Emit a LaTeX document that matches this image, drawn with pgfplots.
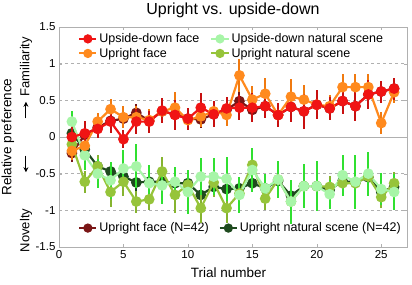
\documentclass[border=0pt]{standalone}
\usepackage{pgfplots}
\pgfplotsset{compat=1.18}
\usepackage{pgfplotstable}
\usepackage{fontspec}
\setmainfont{Liberation Sans}
\usetikzlibrary{arrows.meta}

\definecolor{cRed}{HTML}{F01414}
\definecolor{cRedBar}{HTML}{C81010}
\definecolor{cOrange}{HTML}{FF8A1E}
\definecolor{cOrangeBar}{HTML}{F07A10}
\definecolor{cLGreen}{HTML}{A8F5A8}
\definecolor{cLGreenBar}{HTML}{30E030}
\definecolor{cYGreen}{HTML}{96C43A}
\definecolor{cYGreenBar}{HTML}{86B430}
\definecolor{cDRed}{HTML}{7A1616}
\definecolor{cDGreen}{HTML}{1E4A1E}
\definecolor{cAxis}{HTML}{B0B0B0}

\pgfplotstableread{
x y e
1 0.00 0.15
2 0.05 0.17
3 0.11 0.12
4 0.21 0.15
5 -0.03 0.12
6 0.21 0.17
7 0.21 0.15
8 0.36 0.17
9 0.30 0.20
10 0.25 0.15
11 0.40 0.20
12 0.31 0.18
13 0.39 0.15
14 0.40 0.17
15 0.40 0.20
16 0.42 0.16
17 0.30 0.16
18 0.41 0.20
19 0.35 0.24
20 0.44 0.20
21 0.39 0.16
22 0.49 0.18
23 0.42 0.20
24 0.58 0.20
25 0.62 0.15
26 0.66 0.15
}\tRed

\pgfplotstableread{
x y e
1 -0.19 0.12
2 -0.12 0.12
3 0.21 0.12
4 0.38 0.14
5 0.27 0.15
6 0.27 0.15
7 0.23 0.15
8 0.35 0.15
9 0.40 0.22
10 0.23 0.12
11 0.28 0.15
12 0.35 0.12
13 0.30 0.15
14 0.84 0.22
15 0.51 0.18
16 0.59 0.22
17 0.30 0.15
18 0.55 0.24
19 0.51 0.20
20 0.44 0.15
21 0.42 0.15
22 0.68 0.18
23 0.68 0.18
24 0.68 0.18
25 0.19 0.15
26 0.61 0.15
}\tOrange

\pgfplotstableread{
x y e
1 -0.22 0.12
2 0.03 0.12
3 0.13 0.12
4 0.22 0.12
5 0.25 0.12
6 0.33 0.12
7 0.22 0.12
8 0.35 0.12
9 0.31 0.12
10 0.25 0.12
11 0.24 0.12
12 0.31 0.12
13 0.37 0.12
14 0.49 0.12
15 0.37 0.12
16 0.42 0.12
17 0.30 0.12
18 0.41 0.12
19 0.35 0.12
20 0.44 0.12
21 0.39 0.12
22 0.49 0.12
23 0.42 0.12
24 0.58 0.12
25 0.62 0.12
26 0.66 0.12
}\tDRed

\pgfplotstableread{
x y e
1 0.21 0.15
2 -0.25 0.20
3 -0.50 0.20
4 -0.59 0.25
5 -0.43 0.25
6 -0.40 0.30
7 -0.63 0.25
8 -0.66 0.25
9 -0.61 0.20
10 -0.75 0.30
11 -0.54 0.25
12 -0.54 0.25
13 -0.57 0.30
14 -0.79 0.25
15 -0.45 0.30
16 -0.70 0.20
17 -0.58 0.25
18 -0.88 0.30
19 -0.67 0.30
20 -0.67 0.34
21 -0.78 0.20
22 -0.52 0.28
23 -0.61 0.37
24 -0.50 0.30
25 -0.71 0.22
26 -0.75 0.25
}\tLGreen

\pgfplotstableread{
x y e
1 -0.10 0.15
2 -0.61 0.15
3 -0.40 0.15
4 -0.75 0.20
5 -0.61 0.20
6 -0.88 0.15
7 -0.85 0.15
8 -0.47 0.20
9 -0.79 0.25
10 -0.65 0.20
11 -0.97 0.20
12 -0.62 0.20
13 -0.97 0.20
14 -0.77 0.20
15 -0.38 0.20
16 -0.84 0.15
17 -0.58 0.20
18 -0.88 0.20
19 -0.67 0.20
20 -0.67 0.20
21 -0.68 0.15
22 -0.63 0.15
23 -0.63 0.15
24 -0.54 0.15
25 -0.82 0.15
26 -0.63 0.15
}\tYGreen

\pgfplotstableread{
x y e
1 0.05 0.12
2 -0.17 0.12
3 -0.40 0.12
4 -0.47 0.12
5 -0.54 0.12
6 -0.62 0.12
7 -0.61 0.12
8 -0.61 0.12
9 -0.63 0.12
10 -0.63 0.12
11 -0.79 0.12
12 -0.68 0.12
13 -0.71 0.12
14 -0.70 0.12
15 -0.63 0.12
16 -0.70 0.12
17 -0.60 0.12
18 -0.80 0.12
19 -0.67 0.12
20 -0.67 0.12
21 -0.72 0.12
22 -0.60 0.12
23 -0.62 0.12
24 -0.55 0.12
25 -0.75 0.12
26 -0.68 0.12
}\tDGreen

\pgfplotsset{
  common/.style={
    at={(0pt,0pt)}, anchor=south west,
    scale only axis, width=348pt, height=220pt,
    xmin=0, xmax=27, ymin=-1.5, ymax=1.5,
  },
  ser/.style={color=#1, line width=2.2pt, mark=*, mark size=4.2pt,
    mark options={solid, fill=#1}},
  eb/.style={error bars/.cd, y dir=both, y explicit, error mark=none,
    error bar style={line width=2pt, color=#1}},
  leg/.style={color=#1, line width=2pt, mark=*, mark size=3.6pt,
    mark options={solid, fill=#1}},
}

\begin{document}
\begin{tikzpicture}
\path[use as bounding box] (-59pt,-37pt) rectangle (353pt,247pt);
% Background axis: grid, ticks, dark series, bottom legend
\begin{axis}[common,
  axis line style={draw=cAxis},
  tick style={draw=cAxis},
  major tick length=3pt,
  xtick={0,5,10,15,20,25},
  ytick={-1.5,-1,-0.5,0.5,1,1.5},
  extra y ticks={0},
  extra y tick style={grid style={solid, draw=cAxis, line width=0.6pt}},
  ymajorgrids,
  grid style={dashed, draw=cAxis, line width=0.6pt},
  /pgf/number format/assume math mode=true,
  tick label style={font=\fontsize{11.5}{13}\selectfont},
  yticklabel style={/pgf/number format/fixed},
  legend columns=2,
  legend style={at={(0.055,0.086)}, anchor=west, draw=none, fill=none,
    font=\fontsize{12.5}{14}\selectfont, inner sep=0pt,
    /tikz/every even column/.append style={column sep=8pt}},
  legend cell align=left,
]
\addplot[forget plot, ser=cDRed, eb=cDRed] table[x=x,y=y,y error=e] {\tDRed};
\addplot[forget plot, ser=cDGreen, eb=cDGreen] table[x=x,y=y,y error=e] {\tDGreen};
\addlegendimage{leg=cDRed}
\addlegendentry{Upright face (N=42)}
\addlegendimage{leg=cDGreen}
\addlegendentry{Upright natural scene (N=42)}
\end{axis}
% Foreground axis: main series, top legend, labels
\begin{axis}[common,
  axis lines=none, ticks=none,
  clip=false,
  legend columns=2,
  legend style={at={(0.055,0.98)}, anchor=north west, draw=none, fill=none,
    font=\fontsize{12.5}{14}\selectfont, inner sep=0pt, row sep=0pt,
    /tikz/every even column/.append style={column sep=9pt}},
  legend cell align=left,
]
\addplot[forget plot, ser=cYGreen, eb=cYGreenBar] table[x=x,y=y,y error=e] {\tYGreen};
\addplot[forget plot, ser=cLGreen, eb=cLGreenBar] table[x=x,y=y,y error=e] {\tLGreen};
\addplot[forget plot, ser=cOrange, eb=cOrangeBar] table[x=x,y=y,y error=e] {\tOrange};
\addplot[forget plot, ser=cRed, eb=cRedBar] table[x=x,y=y,y error=e] {\tRed};
\addlegendimage{leg=cRed}
\addlegendentry{Upside-down face}
\addlegendimage{leg=cLGreen}
\addlegendentry{Upside-down natural scene}
\addlegendimage{leg=cOrange}
\addlegendentry{Upright face}
\addlegendimage{leg=cYGreen}
\addlegendentry{Upright natural scene}
\node[font=\fontsize{16}{18}\selectfont] at (rel axis cs:0.5,1.077) {Upright vs. upside-down};
\node[font=\fontsize{13.5}{15}\selectfont] at (rel axis cs:0.487,-0.118) {Trial number};
\node[font=\fontsize{13.5}{15}\selectfont, rotate=90] at (rel axis cs:-0.147,0.5) {Relative preference};
\node[font=\fontsize{13}{15}\selectfont, rotate=90] at (rel axis cs:-0.095,0.82) {Familiarity};
\node[font=\fontsize{13}{15}\selectfont, rotate=90] at (rel axis cs:-0.095,0.075) {Novelty};
\draw[-{Stealth[length=5pt,width=5pt]}, line width=1pt] (rel axis cs:-0.095,0.585) -- (rel axis cs:-0.095,0.66);
\draw[-{Stealth[length=5pt,width=5pt]}, line width=1pt] (rel axis cs:-0.095,0.415) -- (rel axis cs:-0.095,0.34);
\end{axis}
\end{tikzpicture}
\end{document}
